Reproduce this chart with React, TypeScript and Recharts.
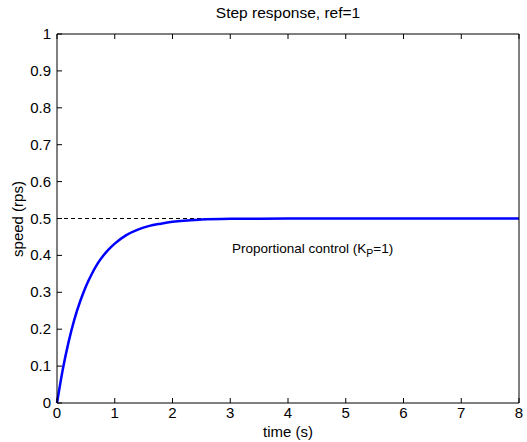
import { LineChart, Line, XAxis, YAxis, ReferenceLine, ReferenceDot } from "recharts";

// time (s)
const times = [0, 0.1, 0.2, 0.3, 0.4, 0.5, 0.6, 0.7, 0.8, 0.9, 1.0, 1.2, 1.4, 1.6, 1.8, 2.0, 2.5, 3.0, 3.5, 4, 5, 6, 7, 8];
// speed (rps)
const speeds = [0, 0.091, 0.165, 0.226, 0.275, 0.316, 0.349, 0.377, 0.399, 0.417, 0.432, 0.455, 0.47, 0.48, 0.486, 0.491, 0.497, 0.499, 0.4995, 0.4998, 0.5, 0.5, 0.5, 0.5];

const xTicks = [0, 1, 2, 3, 4, 5, 6, 7, 8];
const yTicks = [0, 0.1, 0.2, 0.3, 0.4, 0.5, 0.6, 0.7, 0.8, 0.9, 1];

const data = times.map((t, i) => ({ t, v: speeds[i] }));

const FONT = "'Liberation Sans', Arial, sans-serif";
const TICK = 5;
const FS = 15;

const BottomTick = (p: any) => (
  <g>
    <line x1={p.x} y1={p.y} x2={p.x} y2={p.y - TICK} stroke="#000" />
    <text x={p.x} y={p.y + 15} textAnchor="middle" fontSize={FS} fontFamily={FONT} fill="#000">
      {p.payload.value}
    </text>
  </g>
);

const LeftTick = (p: any) => (
  <g>
    <line x1={p.x} y1={p.y} x2={p.x + TICK} y2={p.y} stroke="#000" />
    <text x={p.x - 6} y={p.y + 5} textAnchor="end" fontSize={FS} fontFamily={FONT} fill="#000">
      {p.payload.value}
    </text>
  </g>
);

const TopTick = (p: any) => <line x1={p.x} y1={p.y} x2={p.x} y2={p.y + TICK} stroke="#000" />;
const RightTick = (p: any) => <line x1={p.x} y1={p.y} x2={p.x - TICK} y2={p.y} stroke="#000" />;

const Note = (p: any) => {
  const { x, y } = p.viewBox;
  return (
    <text x={x} y={y} fontSize={13.5} fontFamily={FONT} fill="#000">
      Proportional control (K
      <tspan fontSize={10.5} dy={4}>P</tspan>
      <tspan dy={-4}>=1)</tspan>
    </text>
  );
};

export default function App() {
  return (
    <div style={{ position: "absolute", left: 0, top: 0, background: "#fff" }}>
      <LineChart
        width={527}
        height={442}
        data={data}
        margin={{ top: 33, right: 7, bottom: 9, left: 17 }}
      >
        <XAxis
          xAxisId="b"
          dataKey="t"
          type="number"
          domain={[0, 8]}
          ticks={xTicks}
          height={30}
          tickSize={0}
          tickMargin={0}
          tickLine={false}
          axisLine={{ stroke: "#000" }}
          tick={BottomTick}
        />
        <XAxis
          xAxisId="t"
          orientation="top"
          dataKey="t"
          type="number"
          domain={[0, 8]}
          ticks={xTicks}
          height={1}
          tickSize={0}
          tickMargin={0}
          tickLine={false}
          axisLine={{ stroke: "#000" }}
          tick={TopTick}
        />
        <YAxis
          yAxisId="l"
          type="number"
          domain={[0, 1]}
          ticks={yTicks}
          width={40}
          tickSize={0}
          tickMargin={0}
          tickLine={false}
          axisLine={{ stroke: "#000" }}
          tick={LeftTick}
        />
        <YAxis
          yAxisId="r"
          orientation="right"
          type="number"
          domain={[0, 1]}
          ticks={yTicks}
          width={1}
          tickSize={0}
          tickMargin={0}
          tickLine={false}
          axisLine={{ stroke: "#000" }}
          tick={RightTick}
        />
        <ReferenceLine xAxisId="b" yAxisId="l" y={0.5} stroke="#000" strokeDasharray="4 3" />
        <Line
          xAxisId="b"
          yAxisId="l"
          type="monotone"
          dataKey="v"
          stroke="#0000ff"
          strokeWidth={2.5}
          dot={false}
          isAnimationActive={false}
        />
        <ReferenceDot xAxisId="b" yAxisId="l" x={3.03} y={0.407} r={0} fill="none" stroke="none" label={Note} />
        <text x={288} y={18} textAnchor="middle" fontSize={15.5} fontFamily={FONT} fill="#000">
          Step response, ref=1
        </text>
        <text x={288} y={437} textAnchor="middle" fontSize={FS} fontFamily={FONT} fill="#000">
          time (s)
        </text>
        <text
          x={23}
          y={219}
          textAnchor="middle"
          fontSize={FS}
          fontFamily={FONT}
          fill="#000"
          transform="rotate(-90 23 219)"
        >
          speed (rps)
        </text>
      </LineChart>
    </div>
  );
}
